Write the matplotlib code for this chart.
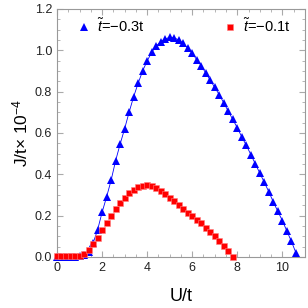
import numpy as np
import matplotlib
matplotlib.use("Agg")
import matplotlib.pyplot as plt
from matplotlib.ticker import MultipleLocator

plt.rcParams["font.family"] = ["Liberation Sans", "DejaVu Sans"]
plt.rcParams["mathtext.fontset"] = "custom"
plt.rcParams["mathtext.it"] = "Liberation Sans:italic"
plt.rcParams["mathtext.rm"] = "Liberation Sans"

# ---------------------------------------------------------------------------
# Data
# ---------------------------------------------------------------------------
U_blue = [0.0, 0.2, 0.4, 0.6, 0.8, 1.0, 1.2, 1.4, 1.6, 1.8, 2.0, 2.2, 2.4, 2.6,
          2.8, 3.0, 3.2, 3.4, 3.6, 3.8, 4.0, 4.2, 4.4, 4.6, 4.8, 5.0, 5.2, 5.4,
          5.6, 5.8, 6.0, 6.2, 6.4, 6.6, 6.8, 7.0, 7.2, 7.4, 7.6, 7.8, 8.0, 8.2,
          8.4, 8.6, 8.8, 9.0, 9.2, 9.4, 9.6, 9.8, 10.0, 10.2, 10.4, 10.6]
J_blue = [0.0, 0.0, 0.0, 0.0, 0.001, 0.002, 0.008, 0.025, 0.066, 0.13, 0.215,
          0.29, 0.37, 0.465, 0.545, 0.62, 0.70, 0.775, 0.84, 0.90, 0.948, 0.99,
          1.02, 1.042, 1.055, 1.062, 1.06, 1.05, 1.033, 1.01, 0.985, 0.955,
          0.925, 0.89, 0.855, 0.82, 0.785, 0.745, 0.705, 0.665, 0.625, 0.58,
          0.54, 0.495, 0.45, 0.405, 0.36, 0.315, 0.265, 0.22, 0.175, 0.125,
          0.075, 0.02]

U_red = [0.0, 0.2, 0.4, 0.6, 0.8, 1.0, 1.2, 1.4, 1.6, 1.8, 2.0, 2.2, 2.4, 2.6,
         2.8, 3.0, 3.2, 3.4, 3.6, 3.8, 4.0, 4.2, 4.4, 4.6, 4.8, 5.0, 5.2, 5.4,
         5.6, 5.8, 6.0, 6.2, 6.4, 6.6, 6.8, 7.0, 7.2, 7.4, 7.6, 7.8]
J_red = [0.002, 0.002, 0.002, 0.002, 0.003, 0.006, 0.015, 0.034, 0.06, 0.09,
         0.13, 0.165, 0.20, 0.233, 0.262, 0.287, 0.308, 0.324, 0.337, 0.345,
         0.347, 0.343, 0.333, 0.319, 0.303, 0.285, 0.268, 0.252, 0.232, 0.214,
         0.197, 0.18, 0.162, 0.141, 0.12, 0.10, 0.078, 0.055, 0.027, 0.0]

LABEL_BLUE = r"$\tilde{t}$=−0.3t"
LABEL_RED = r"$\tilde{t}$=−0.1t"

# ---------------------------------------------------------------------------
# Plot
# ---------------------------------------------------------------------------
fig = plt.figure(figsize=(3.08, 3.08), dpi=100)
ax = fig.add_axes([0.185, 0.166, 0.805, 0.805])

ax.plot(U_blue, J_blue, color="#0000ff", linewidth=0.6, marker="^",
        markersize=5.8, markeredgewidth=0, label=LABEL_BLUE, clip_on=False,
        zorder=3)
ax.plot(U_red, J_red, color="#ff0000", linestyle="none", marker="s",
        markersize=4.3, markeredgewidth=0.4, markeredgecolor="#ff8080",
        label=LABEL_RED, clip_on=False, zorder=4)

ax.set_xlim(0, 11)
ax.set_ylim(0, 1.2)
ax.xaxis.set_major_locator(MultipleLocator(2))
ax.xaxis.set_minor_locator(MultipleLocator(0.5))
ax.yaxis.set_major_locator(MultipleLocator(0.2))
ax.yaxis.set_minor_locator(MultipleLocator(0.05))
ax.yaxis.set_major_formatter(matplotlib.ticker.FormatStrFormatter("%.1f"))

for s in ax.spines.values():
    s.set_color("#999999")
    s.set_linewidth(0.8)
ax.tick_params(which="both", direction="in", top=True, right=True,
               colors="#aaaaaa", labelcolor="#222222", labelsize=9)
ax.tick_params(which="major", length=4, width=0.8)
ax.tick_params(which="minor", length=2, width=0.6)

ax.set_xlabel("U/t", fontsize=13, labelpad=10)
ax.set_ylabel(r"J/t$\times$ 10$^{-4}$", fontsize=12.5, labelpad=3)

h, l = ax.get_legend_handles_labels()
leg1 = ax.legend([h[0]], [l[0]], loc="upper left", bbox_to_anchor=(0.06, 0.99),
                 frameon=False, fontsize=10.5, handlelength=0.8,
                 handletextpad=0.5, borderaxespad=0)
ax.add_artist(leg1)
ax.legend([h[1]], [l[1]], loc="upper right", bbox_to_anchor=(0.965, 0.99),
          frameon=False, fontsize=10.5, handlelength=0.8, handletextpad=0.5,
          borderaxespad=0)
leg1.legend_handles[0].set_linestyle("none")

fig.savefig("out.png", dpi=100)
